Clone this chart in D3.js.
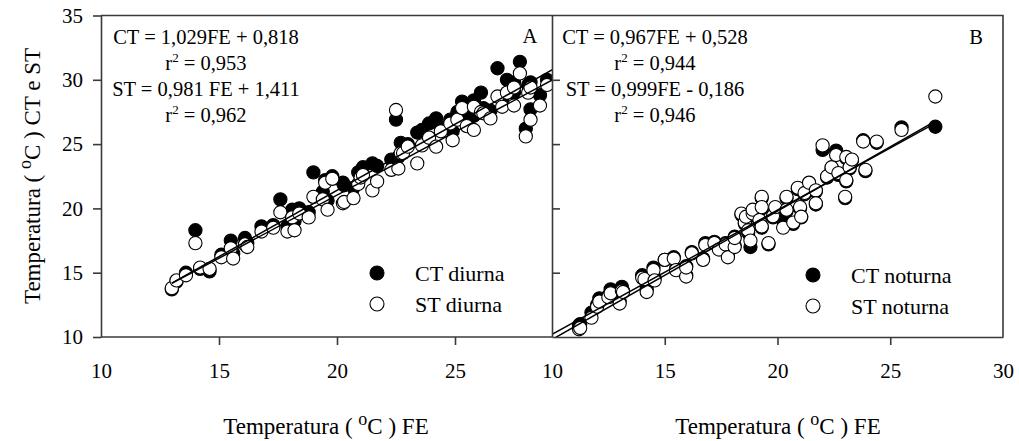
<!DOCTYPE html>
<html>
<head>
<meta charset="utf-8">
<script src="https://cdn.jsdelivr.net/npm/d3@7"></script>
<style>
  body { margin: 0; background: #fff; }
  svg text { font-family: "Liberation Serif", "Times New Roman", serif; white-space: pre; fill: #000; }
</style>
</head>
<body>
<div class="CHART"></div>
<script>
// diurnal readings: FE (x), CT and ST (y)
var feDiurna = [13.0,13.2,13.6,14.0,14.2,14.6,15.1,15.5,15.6,16.1,16.2,16.8,17.3,17.6,17.9,18.1,18.2,18.4,18.8,19.0,
  19.4,19.5,19.6,19.8,20.25,20.3,20.7,20.9,21.0,21.1,21.5,21.7,22.3,22.5,22.6,22.7,22.8,23.0,23.4,23.6,
  23.9,24.2,24.4,24.8,24.9,25.1,25.3,25.5,25.8,25.8,26.1,26.2,26.5,26.8,27.0,27.2,27.5,27.5,27.75,28.0,
  28.1,28.2,28.2,28.6,28.9];
var ctDiurna = [13.7,14.3,15.0,18.3,15.3,15.1,16.4,17.5,16.5,17.7,17.3,18.6,18.7,20.7,18.6,19.9,19.0,20.0,19.7,22.8,
  21.3,22.2,20.6,22.5,22.0,21.8,21.6,22.8,22.9,23.2,23.5,23.3,23.8,26.9,24.0,25.1,24.6,25.0,25.9,26.1,
  26.6,27.0,26.3,26.9,26.0,27.5,28.3,27.0,27.2,28.4,29.0,27.8,27.6,30.9,28.5,30.0,29.0,29.8,31.4,26.2,
  29.6,27.7,29.8,28.8,30.0];
var stDiurna = [13.8,14.4,14.8,17.3,15.4,15.3,16.2,16.9,16.1,17.2,17.0,18.2,18.5,19.7,18.2,19.3,18.3,19.6,19.3,20.9,
  20.7,22.0,19.9,22.3,20.4,20.5,20.8,21.9,22.4,22.6,21.4,22.1,23.0,27.65,23.1,24.3,24.3,24.8,23.5,24.9,
  25.5,24.8,26.0,26.6,25.3,26.9,27.8,26.4,26.1,27.9,27.5,27.4,27.0,28.7,27.9,29.0,28.0,29.4,30.5,25.6,
  29.0,26.9,29.4,28.0,29.6];

// nocturnal readings
var feNoturna = [11.2,11.25,11.75,12.0,12.1,12.5,12.6,13.0,13.1,13.15,14.0,14.1,14.2,14.5,14.55,15.0,15.4,15.5,15.95,15.95,
  16.2,16.7,16.8,17.2,17.4,17.7,17.8,18.1,18.1,18.4,18.55,18.6,18.7,18.8,18.9,18.9,19.2,19.3,19.3,19.3,
  19.6,19.8,19.9,20.25,20.4,20.4,20.7,20.9,21.0,21.05,21.2,21.4,21.7,21.7,22.0,22.2,22.4,22.6,22.7,23.0,
  23.05,23.05,23.2,23.3,23.8,23.9,24.4,25.5,27.0];
var ctNoturna = [10.9,11.0,11.9,12.5,13.0,13.2,13.7,12.8,13.9,13.6,14.8,14.7,13.7,15.4,14.6,16.0,16.2,15.3,14.8,15.5,
  16.6,16.1,17.3,17.4,16.9,17.3,16.3,17.1,17.8,19.5,18.8,19.3,18.1,17.0,19.5,19.8,19.0,20.8,20.0,18.5,
  17.2,19.3,20.0,19.1,20.8,19.8,18.8,21.5,20.0,19.3,21.1,21.9,21.3,20.3,24.55,22.4,23.1,24.5,22.6,20.8,
  22.1,23.9,23.1,23.7,25.3,22.9,25.1,26.3,26.35];
var stNoturna = [10.6,10.7,11.5,12.35,12.75,13.1,13.4,12.6,13.6,13.5,14.6,14.5,13.5,15.2,14.4,16.0,16.1,15.2,14.7,15.4,
  16.5,16.0,17.15,17.3,16.8,17.2,16.2,17.0,17.7,19.6,18.9,19.35,18.3,17.5,19.6,19.9,19.1,20.9,20.1,18.6,
  17.3,19.4,20.1,18.5,20.9,19.9,18.9,21.6,20.1,19.35,21.2,22.0,21.4,20.4,24.9,22.5,23.2,24.15,22.75,20.9,
  22.2,24.0,23.2,23.8,25.2,23.0,25.2,26.1,28.7];

// regression fits [slope, intercept] and the x span they are drawn over
var fitCTDiurna = [1.029, 0.818], fitSTDiurna = [0.981, 1.411];
var fitCTNoturna = [0.967, 0.528], fitSTNoturna = [0.999, -0.186];
var spanDiurna = [13, 30], spanNoturna = [10, 27];

var eqDiurna = [["CT = 1,029FE + 0,818", null], ["r", "0,953"], ["ST = 0,981 FE + 1,411", null], ["r", "0,962"]];
var eqNoturna = [["CT = 0,967FE + 0,528", null], ["r", "0,944"], ["ST = 0,999FE - 0,186", null], ["r", "0,946"]];
var yTicks = [10, 15, 20, 25, 30, 35];
var xTicksA = [10, 15, 20, 25], xTicksB = [10, 15, 20, 25, 30];

var width = 1019, height = 441;
var svg = d3.select(".CHART").append("svg")
    .attr("width", width)
    .attr("height", height);

var plotTop = 15.5, plotBottom = 337;
var y = d3.scaleLinear().domain([10, 35]).range([plotBottom, plotTop]);
var xA = d3.scaleLinear().domain([10, 30]).range([101, 573]);
var xB = d3.scaleLinear().domain([10, 30]).range([552, 1003]);

svg.append("clipPath").attr("id", "clipA")
  .append("rect").attr("x", 101).attr("y", plotTop).attr("width", 552 - 101).attr("height", plotBottom - plotTop);
svg.append("clipPath").attr("id", "clipB")
  .append("rect").attr("x", 552).attr("y", plotTop).attr("width", 1003 - 552).attr("height", plotBottom - plotTop);

function drawPanel(x, clipId, fe, ct, st, fitCT, fitST, span) {
  var g = svg.append("g").attr("clip-path", "url(#" + clipId + ")");
  g.selectAll("circle.ct").data(fe).enter().append("circle")
    .attr("class", "ct")
    .attr("cx", function(d) { return x(d); })
    .attr("cy", function(d, i) { return y(ct[i]); })
    .attr("r", 6.6)
    .attr("fill", "#000").attr("stroke", "#000").attr("stroke-width", 1.1);
  g.selectAll("circle.st").data(fe).enter().append("circle")
    .attr("class", "st")
    .attr("cx", function(d) { return x(d); })
    .attr("cy", function(d, i) { return y(st[i]); })
    .attr("r", 6.6)
    .attr("fill", "#fff").attr("stroke", "#000").attr("stroke-width", 1.1);

  [fitCT, fitST].forEach(function(f) {
    g.append("line")
      .attr("x1", x(span[0])).attr("y1", y(f[0] * span[0] + f[1]))
      .attr("x2", x(span[1])).attr("y2", y(f[0] * span[1] + f[1]))
      .attr("stroke", "#000").attr("stroke-width", 1.5);
  });
}

drawPanel(xA, "clipA", feDiurna, ctDiurna, stDiurna, fitCTDiurna, fitSTDiurna, spanDiurna);
drawPanel(xB, "clipB", feNoturna, ctNoturna, stNoturna, fitCTNoturna, fitSTNoturna, spanNoturna);

// axes
var axisColor = "#3a3a3a";
function styleAxis(sel) {
  sel.selectAll("path, line").attr("stroke", axisColor).attr("stroke-width", 1.6);
  sel.selectAll("text").attr("font-size", 21).attr("font-family", "Liberation Serif").attr("fill", "#000");
}

var leftAxis = svg.append("g").attr("transform", "translate(101,0)")
  .call(d3.axisLeft(y).tickValues(yTicks).tickSize(8).tickSizeOuter(0).tickPadding(10));
styleAxis(leftAxis);

var bottomA = svg.append("g").attr("transform", "translate(0," + plotBottom + ")")
  .call(d3.axisBottom(xA).tickValues(xTicksA).tickSize(8).tickSizeOuter(0).tickPadding(18));
bottomA.select(".domain").attr("d", "M101,0H552");
styleAxis(bottomA);

var bottomB = svg.append("g").attr("transform", "translate(0," + plotBottom + ")")
  .call(d3.axisBottom(xB).tickValues(xTicksB).tickSize(8).tickSizeOuter(0).tickPadding(18));
styleAxis(bottomB);
bottomA.selectAll(".tick").filter(function(d) { return d === 10; }).select("line").remove();
bottomB.selectAll(".tick").filter(function(d) { return d === 10 || d === 30; }).select("line").remove();

var midAxis = svg.append("g").attr("transform", "translate(552,0)")
  .call(d3.axisRight(y).tickValues([15, 20, 25, 30]).tickSize(8).tickSizeOuter(0).tickFormat(""));
styleAxis(midAxis);

// frame top and right
svg.append("path")
  .attr("d", "M101," + plotTop + "H1003V" + plotBottom)
  .attr("fill", "none").attr("stroke", axisColor).attr("stroke-width", 1.6);

// equations
function drawEq(lines, cx) {
  lines.forEach(function(l, i) {
    var t = svg.append("text")
      .attr("x", cx).attr("y", 44 + i * 26)
      .attr("text-anchor", "middle")
      .attr("font-size", 20.5);
    if (l[1] === null) {
      t.text(l[0]);
    } else {
      t.append("tspan").text("r");
      t.append("tspan").attr("dy", -8).attr("font-size", 13).text("2");
      t.append("tspan").attr("dy", 8).text(" = " + l[1]);
    }
  });
}
drawEq(eqDiurna, 206);
drawEq(eqNoturna, 655);

svg.append("text").attr("x", 530).attr("y", 43).attr("text-anchor", "middle").attr("font-size", 20.5).text("A");
svg.append("text").attr("x", 976).attr("y", 44).attr("text-anchor", "middle").attr("font-size", 20.5).text("B");

// legends
function drawLegend(x0, y0, labels) {
  labels.forEach(function(lab, i) {
    svg.append("circle")
      .attr("cx", x0).attr("cy", y0 + i * 31).attr("r", 7)
      .attr("fill", i === 0 ? "#000" : "#fff")
      .attr("stroke", "#000").attr("stroke-width", 1.1);
    svg.append("text")
      .attr("x", x0 + 38).attr("y", y0 + i * 31 + 7.5)
      .attr("font-size", 22)
      .text(lab);
  });
}
drawLegend(377, 273, ["CT diurna", "ST diurna"]);
drawLegend(813, 275, ["CT noturna", "ST noturna"]);

// axis titles
function degTitle(t, before, after) {
  t.append("tspan").text(before);
  t.append("tspan").attr("dy", -9).attr("font-size", 18).text("o");
  t.append("tspan").attr("dy", 9).text(after);
}
degTitle(svg.append("text").attr("x", 326).attr("y", 434).attr("text-anchor", "middle").attr("font-size", 23),
  "Temperatura ( ", "C ) FE");
degTitle(svg.append("text").attr("x", 778).attr("y", 434).attr("text-anchor", "middle").attr("font-size", 23),
  "Temperatura ( ", "C ) FE");
degTitle(svg.append("text").attr("transform", "translate(40,176) rotate(-90)").attr("text-anchor", "middle").attr("font-size", 23),
  "Temperatura ( ", "C ) CT e ST");
</script>
</body>
</html>
